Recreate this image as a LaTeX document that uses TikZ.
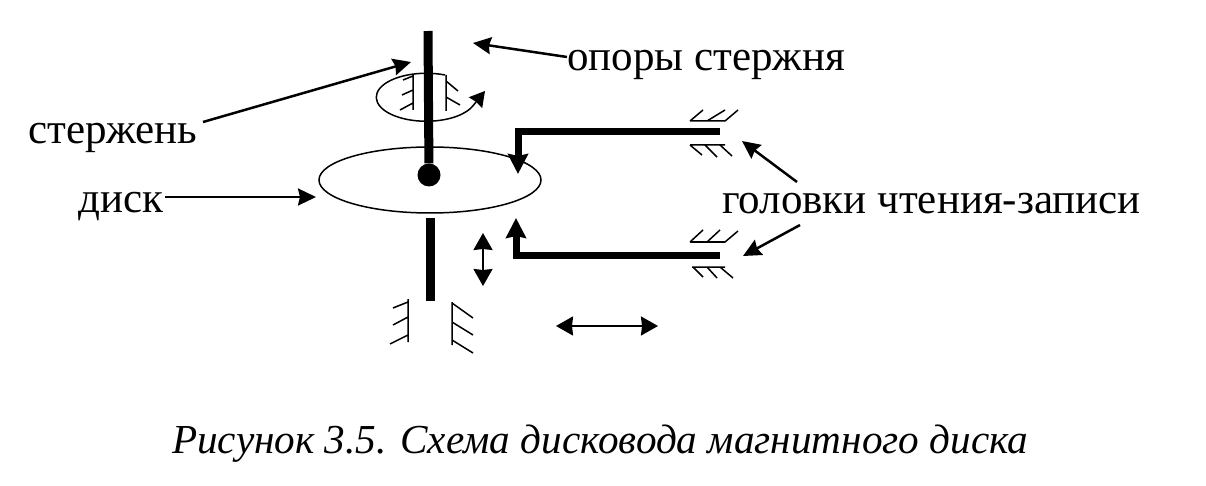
\documentclass[tikz,border=0pt]{standalone}
\usepackage{fontspec}
\setmainfont{Liberation Serif}
\usetikzlibrary{arrows.meta}
\usetikzlibrary{shapes.geometric}

\begin{document}
\begin{tikzpicture}[x=1pt, y=-1pt,
  paths/.style={-{Stealth[length=18pt,width=17pt,inset=2pt]}, line width=2.5pt},
  arm/.style={-{Stealth[length=20pt,width=20pt,inset=2pt]}, line width=7pt},
  shift_arrow/.style={{Stealth[length=17pt,width=19pt,inset=1pt]}-{Stealth[length=17pt,width=19pt,inset=1pt]}, line width=2pt},
  rod/.style={line width=9pt},
  hatch/.style={line width=1.5pt},
  words/.style={font=\fontsize{43}{43}\selectfont, anchor=base west, inner sep=0pt}]

 \useasboundingbox (0,0) rectangle (1206,486);

 \node[words] (label_supports) at (567,71) {опоры стержня};

 \node[words] (label_rod) at (28,144) {стержень};

 \node[words] (label_disk) at (78,213) {диск};

 \node[words] (label_heads) at (722,214) {головки чтения-записи};

 \node[words, font=\fontsize{41.2}{41.2}\selectfont\itshape] (caption) at (172,453)
     {Рисунок 3.5. Схема дисковода магнитного диска};

 \node[draw, ellipse, line width=1.5pt, minimum width=222pt, minimum height=66pt, inner sep=0pt] (disk) at (430,180) {};

 \node[circle, fill, minimum size=23pt, inner sep=0pt] (hub) at (429,175) {};

 \coordinate (rod_top) at (428,31);
 \coordinate (rod_low_a) at (430,218);
 \coordinate (rod_low_b) at (430,301);

 \coordinate (supports_from) at (567,57);
 \coordinate (supports_tip) at (473,43);
 \coordinate (rod_from) at (203,122);
 \coordinate (rod_tip) at (411,62);
 \coordinate (disk_from) at (165,197);
 \coordinate (disk_tip) at (316,197);
 \coordinate (head_up_from) at (797,182);
 \coordinate (head_up_tip) at (742,141);
 \coordinate (head_low_from) at (800,225);
 \coordinate (head_low_tip) at (743,256);

 \coordinate (arm_up_end) at (720,132);
 \coordinate (arm_up_bend) at (518,132);
 \coordinate (arm_up_tip) at (518,174);
 \coordinate (arm_low_end) at (720,255);
 \coordinate (arm_low_bend) at (516,255);
 \coordinate (arm_low_tip) at (516,218);

 \coordinate (shift_v_a) at (483,233);
 \coordinate (shift_v_b) at (483,286);
 \coordinate (shift_h_a) at (556,326);
 \coordinate (shift_h_b) at (658,326);

 \coordinate (spin_start) at (445,75);
 \coordinate (spin_tip) at (485,91);

 % rod and arms
 \draw [rod] (rod_top) -- (hub);
 \draw [rod] (rod_low_a) -- (rod_low_b);
 \draw [arm] (arm_up_end) -- (arm_up_bend) -- (arm_up_tip);
 \draw [arm] (arm_low_end) -- (arm_low_bend) -- (arm_low_tip);

 \draw [shift_arrow] (shift_v_a) -- (shift_v_b);
 \draw [shift_arrow] (shift_h_a) -- (shift_h_b);

 % leaders
 \draw [paths] (supports_from) -- (supports_tip);
 \draw [paths] (rod_from) -- (rod_tip);
 \draw [paths] (disk_from) -- (disk_tip);
 \draw [paths] (head_up_from) -- (head_up_tip);
 \draw [paths] (head_low_from) -- (head_low_tip);

 % rotation around the rod
 \draw [line width=1.5pt, -{Stealth[length=15pt,width=17pt,inset=1pt]}] (spin_start)
   arc [start angle=68, end angle=340, x radius=50, y radius=-24] -- (spin_tip);

 % upper support
 \draw [hatch] (413,75) -- (413,110) (402,95) -- (413,90) (400,110) -- (413,103) (403,80) -- (413,76);
 \draw [hatch] (446,75) -- (446,111) (446,81) -- (458,91) (446,97) -- (460,105);

 % lower support
 \draw [hatch] (408,299) -- (408,342) (393,308) -- (408,302) (393,325) -- (408,317) (390,344) -- (408,335);
 \draw [hatch] (452,302) -- (452,345) (452,303) -- (473,318) (452,322) -- (473,335) (452,340) -- (473,353);

 % head guards
 \draw [hatch] (690,121) -- (725,121) (690,121) -- (703,110) (707,121) -- (725,110) (725,121) -- (738,110);
 \draw [hatch] (690,145) -- (725,145) (690,145) -- (702,155) (705,145) -- (717,157) (720,145) -- (732,156);
 \draw [hatch] (690,242) -- (725,242) (690,242) -- (703,230) (707,242) -- (720,230) (725,242) -- (738,231);
 \draw [hatch] (692,267) -- (725,267) (693,267) -- (703,277) (707,267) -- (717,278) (720,267) -- (733,278);

\end{tikzpicture}
\end{document}
